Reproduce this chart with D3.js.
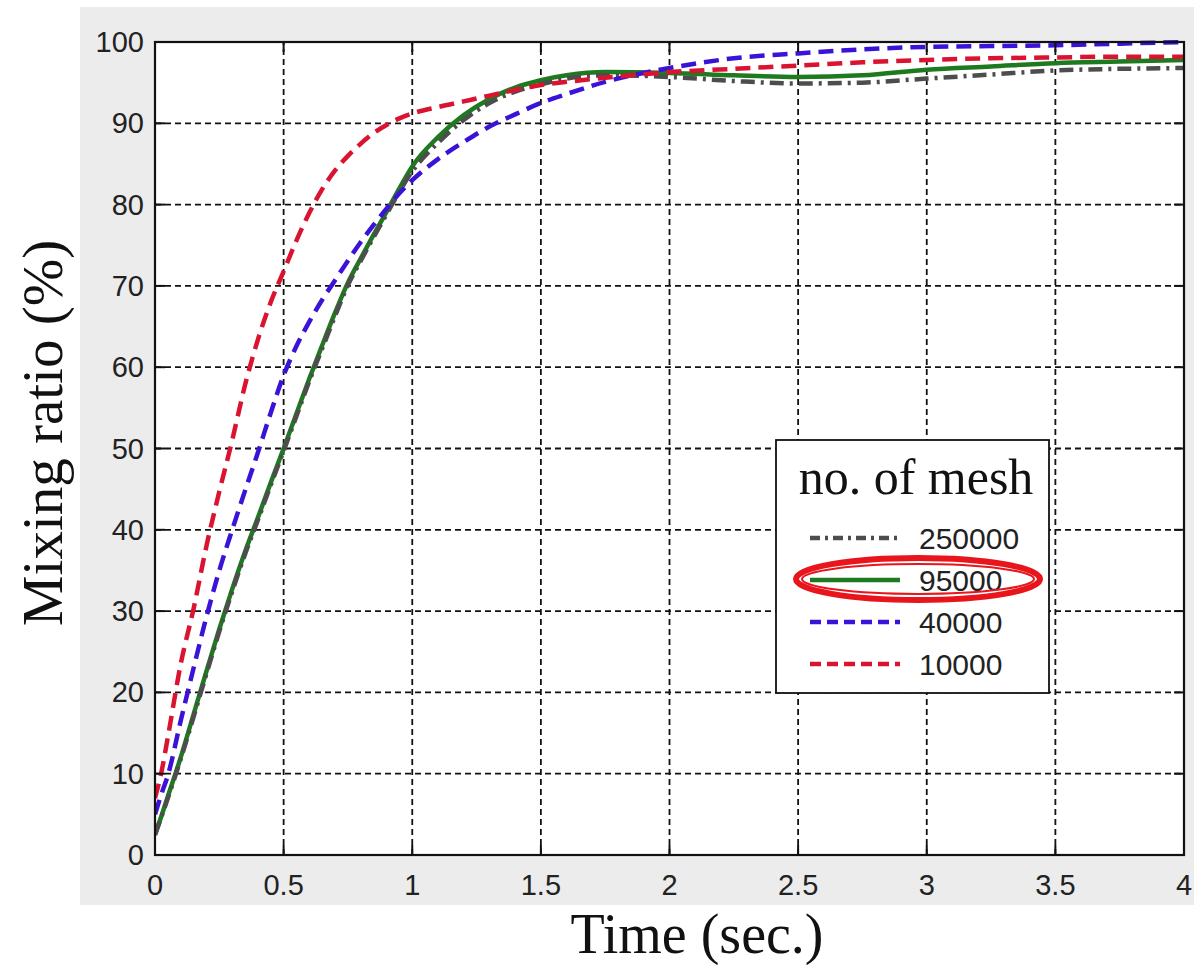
<!DOCTYPE html>
<html>
<head>
<meta charset="utf-8">
<script src="https://cdn.jsdelivr.net/npm/d3@7"></script>
<style>
  html, body { margin: 0; padding: 0; background: #ffffff; }
  svg { display: block; }
</style>
</head>
<body>
<svg id="chart" width="1194" height="965"></svg>
<script>
// Time samples (s) and mixing ratio (%) for each mesh size
const time = [0, 0.025, 0.05, 0.1, 0.15, 0.2, 0.25, 0.3, 0.35, 0.4, 0.45, 0.5, 0.55, 0.6, 0.65, 0.7, 0.75, 0.8, 0.85, 0.9, 0.95, 1.0,
              1.1, 1.2, 1.3, 1.4, 1.5, 1.6, 1.75, 2.0, 2.25, 2.5, 2.75, 3.0, 3.25, 3.5, 3.75, 4.0];

const mesh250000 = [2.5, 4.7, 7.0, 11.8, 17.0, 22.3, 27.5, 32.4, 37.0, 41.2, 45.5, 49.7, 54.0, 58.3, 62.3, 66.3, 70.1, 73.1, 76.0, 78.8, 81.6, 84.1,
                    87.6, 90.4, 92.5, 93.9, 94.8, 95.5, 95.9, 95.7, 95.2, 94.9, 95.0, 95.5, 96.0, 96.5, 96.7, 96.8];
const mesh95000  = [2.5, 4.8, 7.2, 12.0, 17.3, 22.6, 27.8, 32.7, 37.3, 41.5, 45.8, 50.0, 54.3, 58.6, 62.7, 66.7, 70.4, 73.4, 76.3, 79.1, 82.0, 84.7,
                    88.3, 91.0, 93.0, 94.4, 95.3, 95.9, 96.3, 96.2, 95.9, 95.7, 95.9, 96.6, 97.0, 97.4, 97.6, 97.8];
const mesh40000  = [5.0, 7.5, 9.8, 16.5, 23.0, 29.3, 35.0, 40.0, 44.8, 49.5, 54.4, 59.0, 62.6, 65.6, 68.3, 70.7, 73.1, 75.4, 77.5, 79.5, 81.4, 83.0,
                    85.6, 87.7, 89.6, 91.1, 92.5, 93.6, 95.1, 96.8, 98.0, 98.6, 99.1, 99.4, 99.5, 99.6, 99.8, 100.0];
const mesh10000  = [7.0, 10.2, 14.5, 23.5, 30.3, 38.0, 44.7, 51.0, 57.8, 63.4, 68.0, 71.8, 75.6, 79.0, 81.9, 84.2, 86.0, 87.5, 88.8, 89.8, 90.6, 91.2,
                    92.0, 92.7, 93.4, 94.1, 94.7, 95.1, 95.6, 96.3, 96.7, 97.1, 97.5, 97.8, 98.0, 98.1, 98.2, 98.2];

const seriesNames = ["250000", "95000", "40000", "10000"];
const xTicks = [0, 0.5, 1, 1.5, 2, 2.5, 3, 3.5, 4];
const yTicks = [0, 10, 20, 30, 40, 50, 60, 70, 80, 90, 100];
const xTickLabels = ["0", "0.5", "1", "1.5", "2", "2.5", "3", "3.5", "4"];

const svg = d3.select("#chart");

const plotLeft = 155, plotRight = 1184, plotTop = 42, plotBottom = 855;
const x = d3.scaleLinear().domain([0, 4]).range([plotLeft, plotRight]);
const y = d3.scaleLinear().domain([0, 100]).range([plotBottom, plotTop]);

// grey figure panel
svg.append("rect").attr("x", 80).attr("y", 7).attr("width", 1114).attr("height", 898).attr("fill", "#ececec");

// white axes area
svg.append("rect").attr("x", plotLeft).attr("y", plotTop)
  .attr("width", plotRight - plotLeft).attr("height", plotBottom - plotTop).attr("fill", "#ffffff");

// grid
const grid = svg.append("g").attr("stroke", "#111").attr("stroke-width", 1.8).attr("stroke-dasharray", "6,4");
grid.selectAll("line.v").data(xTicks.slice(1, -1)).join("line").attr("class", "v")
  .attr("x1", d => x(d)).attr("x2", d => x(d)).attr("y1", plotBottom).attr("y2", plotTop);
grid.selectAll("line.h").data(yTicks.slice(1, -1)).join("line").attr("class", "h")
  .attr("x1", plotLeft).attr("x2", plotRight).attr("y1", d => y(d)).attr("y2", d => y(d));

// clip for data lines
svg.append("clipPath").attr("id", "plotclip").append("rect")
  .attr("x", plotLeft).attr("y", plotTop - 3).attr("width", plotRight - plotLeft).attr("height", plotBottom - plotTop + 3);

const line = d3.line().x(d => x(d[0])).y(d => y(d[1])).curve(d3.curveMonotoneX);
const zipT = vals => time.map((t, i) => [t, vals[i]]);

const styles = {
  "250000": { color: "#4d4d4d", dash: "14,6,3,6", values: mesh250000 },
  "95000":  { color: "#1e7a1e", dash: null,       values: mesh95000 },
  "40000":  { color: "#3b12d8", dash: "15,8",     values: mesh40000 },
  "10000":  { color: "#da1430", dash: "15,8",     values: mesh10000 }
};

const drawOrder = ["95000", "250000", "40000", "10000"];
const lines = svg.append("g").attr("clip-path", "url(#plotclip)");
drawOrder.forEach(name => {
  const s = styles[name];
  lines.append("path")
    .attr("d", line(zipT(s.values)))
    .attr("fill", "none")
    .attr("stroke", s.color)
    .attr("stroke-width", 4.5)
    .attr("stroke-dasharray", s.dash)
    .attr("stroke-linejoin", "round");
});

// axes with inward ticks on all four sides
const tickLen = 10;
const axisG = svg.append("g").attr("stroke", "#111").attr("stroke-width", 2);
xTicks.forEach(t => {
  axisG.append("line").attr("x1", x(t)).attr("x2", x(t)).attr("y1", plotBottom).attr("y2", plotBottom - tickLen);
  axisG.append("line").attr("x1", x(t)).attr("x2", x(t)).attr("y1", plotTop).attr("y2", plotTop + tickLen);
});
yTicks.forEach(v => {
  axisG.append("line").attr("x1", plotLeft).attr("x2", plotLeft + tickLen).attr("y1", y(v)).attr("y2", y(v));
  axisG.append("line").attr("x1", plotRight).attr("x2", plotRight - tickLen).attr("y1", y(v)).attr("y2", y(v));
});
svg.append("rect").attr("x", plotLeft).attr("y", plotTop)
  .attr("width", plotRight - plotLeft).attr("height", plotBottom - plotTop)
  .attr("fill", "none").attr("stroke", "#111").attr("stroke-width", 2.2);

// tick labels
const tickFont = "'Liberation Sans', Arial, sans-serif";
svg.append("g").selectAll("text").data(xTicks).join("text")
  .attr("x", d => x(d)).attr("y", 895)
  .attr("text-anchor", "middle")
  .attr("font-family", tickFont).attr("font-size", 29).attr("fill", "#222")
  .text((d, i) => xTickLabels[i]);
svg.append("g").selectAll("text").data(yTicks).join("text")
  .attr("x", 144).attr("y", d => y(d) + 10)
  .attr("text-anchor", "end")
  .attr("font-family", tickFont).attr("font-size", 29).attr("fill", "#222")
  .text(d => d);

// axis titles
const titleFont = "'Liberation Serif', 'Times New Roman', serif";
svg.append("text")
  .attr("x", 697).attr("y", 953)
  .attr("text-anchor", "middle")
  .attr("font-family", titleFont).attr("font-size", 56).attr("fill", "#111")
  .text("Time (sec.)");
svg.append("text")
  .attr("transform", "translate(62,433) rotate(-90)")
  .attr("text-anchor", "middle")
  .attr("font-family", titleFont).attr("font-size", 57).attr("fill", "#111")
  .text("Mixing ratio (%)");

// legend
const lg = svg.append("g");
lg.append("rect").attr("x", 776).attr("y", 440).attr("width", 273).attr("height", 253)
  .attr("fill", "#ffffff").attr("stroke", "#111").attr("stroke-width", 1.8);
lg.append("text").attr("x", 916).attr("y", 494).attr("text-anchor", "middle")
  .attr("font-family", titleFont).attr("font-size", 50).attr("fill", "#111").text("no. of mesh");
const rowY = [538, 580, 622, 664];
seriesNames.forEach((name, i) => {
  const s = styles[name];
  lg.append("line").attr("x1", 810).attr("x2", 900).attr("y1", rowY[i]).attr("y2", rowY[i])
    .attr("stroke", s.color).attr("stroke-width", 4.5)
    .attr("stroke-dasharray", name === "250000" ? "10,5,3,5" : (s.dash ? "11,6" : null));
  lg.append("text").attr("x", 919).attr("y", rowY[i] + 11)
    .attr("font-family", tickFont).attr("font-size", 30).attr("fill", "#222").text(name);
});

// highlight ring around the 95000 entry
lg.append("ellipse").attr("cx", 918).attr("cy", 579).attr("rx", 122).attr("ry", 21)
  .attr("fill", "none").attr("stroke", "#e8161c").attr("stroke-width", 6);
lg.append("ellipse").attr("cx", 918).attr("cy", 579).attr("rx", 116).attr("ry", 15)
  .attr("fill", "none").attr("stroke", "#e8161c").attr("stroke-width", 2);
</script>
</body>
</html>
